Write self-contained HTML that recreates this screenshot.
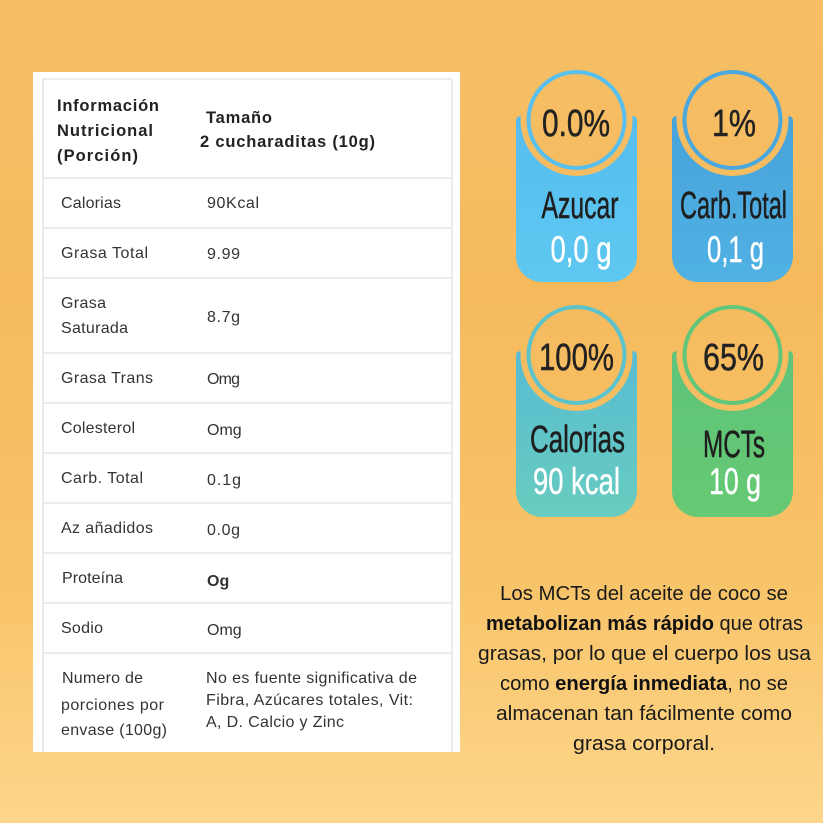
<!DOCTYPE html>
<html><head><meta charset="utf-8"><style>
html,body{margin:0;padding:0;width:823px;height:823px;overflow:hidden;}
svg{display:block;}
.tb{font-family:"Liberation Sans",sans-serif;fill:#333;font-size:16px;}
.hd{font-family:"Liberation Sans",sans-serif;fill:#222;font-size:16.5px;font-weight:700;}
.bd{font-family:"Liberation Sans Narrow","Liberation Sans",sans-serif;text-anchor:middle;}
.pc{fill:#222;stroke:#222;stroke-width:0.5;font-size:38px;}
.nm{fill:#1e1e1e;stroke:#1e1e1e;stroke-width:0.5;font-size:38px;}
.vl{fill:#fff;stroke:#fff;stroke-width:0.4;font-size:37px;}
.pr{font-family:"Liberation Sans",sans-serif;fill:#1a1a1a;font-size:20px;text-anchor:middle;}
</style></head><body>
<svg width="823" height="823" viewBox="0 0 823 823" xmlns="http://www.w3.org/2000/svg">
<defs>
<linearGradient id="bg" gradientUnits="userSpaceOnUse" x1="0" y1="0" x2="0" y2="823">
<stop offset="0" stop-color="#f6bf66"/>
<stop offset="0.35" stop-color="#f6ba5d"/>
<stop offset="0.7" stop-color="#f8c368"/>
<stop offset="1" stop-color="#fdd68b"/>
</linearGradient>
<linearGradient id="g1" x1="0" y1="0" x2="0" y2="1"><stop offset="0" stop-color="#56bdee"/><stop offset="1" stop-color="#5ec8f1"/></linearGradient>
<linearGradient id="g2" x1="0" y1="0" x2="0" y2="1"><stop offset="0" stop-color="#47a3db"/><stop offset="1" stop-color="#50b1e3"/></linearGradient>
<linearGradient id="g3" x1="0" y1="0" x2="0" y2="1"><stop offset="0" stop-color="#58bcd3"/><stop offset="1" stop-color="#68ccbf"/></linearGradient>
<linearGradient id="g4" x1="0" y1="0" x2="0" y2="1"><stop offset="0" stop-color="#5fc37a"/><stop offset="1" stop-color="#66c973"/></linearGradient>
</defs>
<rect x="0" y="0" width="823" height="823" fill="url(#bg)"/>

<!-- table panel -->
<rect x="33" y="72" width="427" height="680" fill="#fff"/>
<g stroke="#e6e6e6" stroke-width="1.6" fill="none">
<line x1="43" y1="79" x2="452" y2="79"/>
<line x1="43" y1="79" x2="43" y2="752"/>
<line x1="452" y1="79" x2="452" y2="752"/>
</g>
<g stroke="#ebebeb" stroke-width="2">
<line x1="43" y1="178" x2="452" y2="178"/>
<line x1="43" y1="228" x2="452" y2="228"/>
<line x1="43" y1="278" x2="452" y2="278"/>
<line x1="43" y1="353" x2="452" y2="353"/>
<line x1="43" y1="403" x2="452" y2="403"/>
<line x1="43" y1="453" x2="452" y2="453"/>
<line x1="43" y1="503" x2="452" y2="503"/>
<line x1="43" y1="553" x2="452" y2="553"/>
<line x1="43" y1="603" x2="452" y2="603"/>
<line x1="43" y1="653" x2="452" y2="653"/>
</g>

<text class="hd" x="57" y="111" textLength="102" lengthAdjust="spacing">Información</text>
<text class="hd" x="57" y="136" textLength="96" lengthAdjust="spacing">Nutricional</text>
<text class="hd" x="57" y="161" textLength="81" lengthAdjust="spacing">(Porción)</text>
<text class="hd" x="206" y="123" textLength="66" lengthAdjust="spacing">Tamaño</text>
<text class="hd" x="200" y="147" textLength="175" lengthAdjust="spacing">2 cucharaditas (10g)</text>

<text class="tb" x="61" y="208" textLength="60" lengthAdjust="spacing">Calorias</text>
<text class="tb" x="207" y="208" textLength="52" lengthAdjust="spacing">90Kcal</text>

<text class="tb" x="61" y="258" textLength="87" lengthAdjust="spacing">Grasa Total</text>
<text class="tb" x="207" y="259" textLength="33" lengthAdjust="spacing">9.99</text>

<text class="tb" x="61" y="308" textLength="45" lengthAdjust="spacing">Grasa</text>
<text class="tb" x="61" y="333" textLength="67" lengthAdjust="spacing">Saturada</text>
<text class="tb" x="207" y="322" textLength="33" lengthAdjust="spacing">8.7g</text>

<text class="tb" x="61" y="383" textLength="92" lengthAdjust="spacing">Grasa Trans</text>
<text class="tb" x="207" y="384" font-size="13" textLength="33" lengthAdjust="spacing">Omg</text>

<text class="tb" x="61" y="433" textLength="74" lengthAdjust="spacing">Colesterol</text>
<text class="tb" x="207" y="435" font-size="14.5">Omg</text>

<text class="tb" x="61" y="483" textLength="82" lengthAdjust="spacing">Carb. Total</text>
<text class="tb" x="207" y="485" textLength="34" lengthAdjust="spacing">0.1g</text>

<text class="tb" x="61" y="533" textLength="92" lengthAdjust="spacing">Az añadidos</text>
<text class="tb" x="207" y="535" textLength="33" lengthAdjust="spacing">0.0g</text>

<text class="tb" x="62" y="583" textLength="61" lengthAdjust="spacing">Proteína</text>
<text class="tb" x="207" y="586" font-weight="700" font-size="13" fill="#111">Og</text>

<text class="tb" x="61" y="633" textLength="42" lengthAdjust="spacing">Sodio</text>
<text class="tb" x="207" y="635" font-size="14.5">Omg</text>

<text class="tb" x="62" y="683" textLength="81" lengthAdjust="spacing">Numero de</text>
<text class="tb" x="61" y="710" textLength="103" lengthAdjust="spacing">porciones por</text>
<text class="tb" x="61" y="735" textLength="106" lengthAdjust="spacing">envase (100g)</text>
<text class="tb" x="206" y="683" textLength="211" lengthAdjust="spacing">No es fuente significativa de</text>
<text class="tb" x="206" y="705" textLength="207" lengthAdjust="spacing">Fibra, Azúcares totales, Vit:</text>
<text class="tb" x="206" y="727" textLength="138" lengthAdjust="spacing">A, D. Calcio y Zinc</text>

<!-- badge 1 -->
<path d="M521,116 H632 Q637,116 637,121 V256 A26,26 0 0 1 611,282 H542 A26,26 0 0 1 516,256 V121 Q516,116 521,116 Z" fill="url(#g1)"/>
<circle cx="576.5" cy="120" r="56" fill="url(#bg)"/>
<circle cx="576.5" cy="120" r="48" fill="url(#bg)" stroke="#58c0ef" stroke-width="4"/>
<!-- badge 2 -->
<path d="M677,116 H788 Q793,116 793,121 V256 A26,26 0 0 1 767,282 H698 A26,26 0 0 1 672,256 V121 Q672,116 677,116 Z" fill="url(#g2)"/>
<circle cx="732.5" cy="120" r="56" fill="url(#bg)"/>
<circle cx="732.5" cy="120" r="48" fill="url(#bg)" stroke="#4aa8de" stroke-width="4"/>
<!-- badge 3 -->
<path d="M521,351 H632 Q637,351 637,356 V491 A26,26 0 0 1 611,517 H542 A26,26 0 0 1 516,491 V356 Q516,351 521,351 Z" fill="url(#g3)"/>
<circle cx="576.5" cy="355" r="56" fill="url(#bg)"/>
<circle cx="576.5" cy="355" r="48" fill="url(#bg)" stroke="#5cc2cb" stroke-width="4"/>
<!-- badge 4 -->
<path d="M677,351 H788 Q793,351 793,356 V491 A26,26 0 0 1 767,517 H698 A26,26 0 0 1 672,491 V356 Q672,351 677,351 Z" fill="url(#g4)"/>
<circle cx="732.5" cy="355" r="56" fill="url(#bg)"/>
<circle cx="732.5" cy="355" r="48" fill="url(#bg)" stroke="#62c67a" stroke-width="4"/>

<text class="bd pc" x="576" y="136" textLength="68" lengthAdjust="spacingAndGlyphs">0.0%</text>
<text class="bd nm" x="580" y="218" textLength="77" lengthAdjust="spacingAndGlyphs">Azucar</text>
<text class="bd vl" x="581" y="262" textLength="61" lengthAdjust="spacingAndGlyphs">0,0 g</text>

<text class="bd pc" x="734" y="136" textLength="44" lengthAdjust="spacingAndGlyphs">1%</text>
<text class="bd nm" x="733.5" y="218" textLength="107" lengthAdjust="spacingAndGlyphs">Carb.Total</text>
<text class="bd vl" x="735.5" y="262" textLength="57" lengthAdjust="spacingAndGlyphs">0,1 g</text>

<text class="bd pc" x="576.5" y="370" textLength="75" lengthAdjust="spacingAndGlyphs">100%</text>
<text class="bd nm" x="577.5" y="452" textLength="95" lengthAdjust="spacingAndGlyphs">Calorias</text>
<text class="bd vl" x="576.5" y="494" textLength="87" lengthAdjust="spacingAndGlyphs">90 kcal</text>

<text class="bd pc" x="733.5" y="370" textLength="61" lengthAdjust="spacingAndGlyphs">65%</text>
<text class="bd nm" x="734" y="457" textLength="62" lengthAdjust="spacingAndGlyphs">MCTs</text>
<text class="bd vl" x="735" y="494" textLength="52" lengthAdjust="spacingAndGlyphs">10 g</text>

<!-- paragraph -->
<text class="pr" x="644" y="600" textLength="288" lengthAdjust="spacingAndGlyphs">Los MCTs del aceite de coco se</text>
<text class="pr" x="644.5" y="630" textLength="317" lengthAdjust="spacingAndGlyphs"><tspan font-weight="700" fill="#111">metabolizan más rápido</tspan> que otras</text>
<text class="pr" x="644.5" y="660" textLength="333" lengthAdjust="spacingAndGlyphs">grasas, por lo que el cuerpo los usa</text>
<text class="pr" x="644" y="690" textLength="288" lengthAdjust="spacingAndGlyphs">como <tspan font-weight="700" fill="#111">energía inmediata</tspan>, no se</text>
<text class="pr" x="644" y="720" textLength="296" lengthAdjust="spacingAndGlyphs">almacenan tan fácilmente como</text>
<text class="pr" x="644" y="750" textLength="142" lengthAdjust="spacingAndGlyphs">grasa corporal.</text>
</svg>
</body></html>
